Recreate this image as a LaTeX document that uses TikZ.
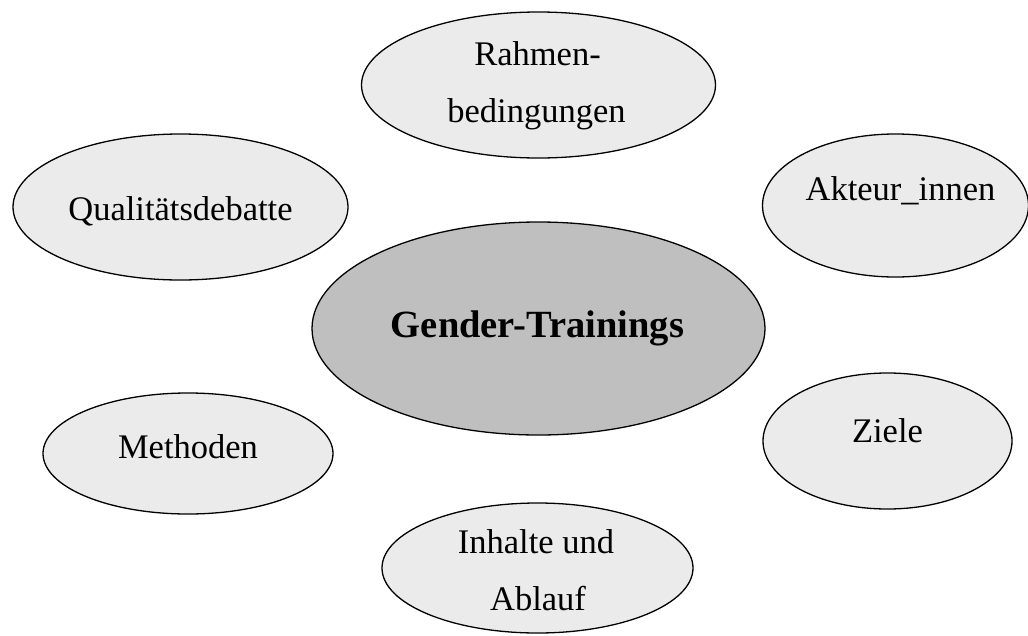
\documentclass[tikz,border=0pt]{standalone}
\usepackage{fontspec}
\setmainfont{Liberation Serif}
\usetikzlibrary{shapes.geometric}
\definecolor{lightfill}{HTML}{EBEBEB}
\definecolor{darkfill}{HTML}{BFBFBF}
\tikzset{
  ell/.style={ellipse, draw=black, line width=1.3pt, fill=lightfill, inner sep=0pt},
  centerell/.style={ell, fill=darkfill},
  lbl/.style={anchor=base, inner sep=0pt, font=\fontsize{34.5}{40}\selectfont},
  biglbl/.style={anchor=base, inner sep=0pt, font=\fontsize{38.5}{44}\selectfont\bfseries}
}
\begin{document}
\begin{tikzpicture}[x=1pt,y=-1pt]
\path[use as bounding box] (0,0) rectangle (1028,635);
\begin{scope}
\clip (0,0) rectangle (1028,635);
% ellipses
\node[ell, minimum width=354pt, minimum height=146pt] (rahmen) at (538.5,85) {};
\node[ell, minimum width=335pt, minimum height=146pt] (quali) at (180.5,207) {};
\node[ell, minimum width=266pt, minimum height=143pt] (akteur) at (895.5,205.5) {};
\node[centerell, minimum width=453pt, minimum height=213pt] (gender) at (538.5,328.5) {};
\node[ell, minimum width=290pt, minimum height=121pt] (methoden) at (188,453.5) {};
\node[ell, minimum width=249pt, minimum height=136pt] (ziele) at (887.5,441) {};
\node[ell, minimum width=311pt, minimum height=130pt] (inhalte) at (537.5,568) {};
\end{scope}
% texts
\node[lbl] (rahmenA) at (537.5,65) {Rahmen-};
\node[lbl] (rahmenB) at (536.5,122) {bedingungen};
\node[lbl] (qualiT) at (180.5,220) {Qualitätsdebatte};
\node[lbl] (akteurT) at (900.5,200) {Akteur\_innen};
\node[biglbl] (genderT) at (537.5,337) {Gender-Trainings};
\node[lbl] (methodenT) at (188,458) {Methoden};
\node[lbl] (zieleT) at (887.5,442) {Ziele};
\node[lbl] (inhalteA) at (536,553) {Inhalte und};
\node[lbl] (inhalteB) at (538,610) {Ablauf};
\end{tikzpicture}
\end{document}
